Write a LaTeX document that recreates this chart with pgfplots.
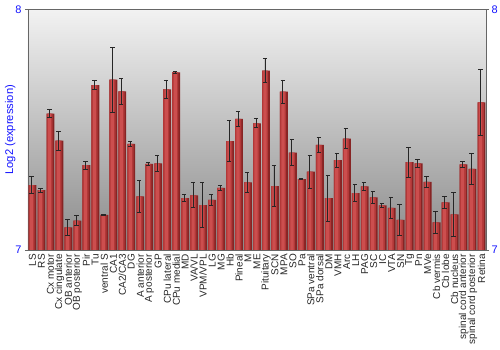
\documentclass[border=0pt]{standalone}
\usepackage{pgfplots}
\pgfplotsset{compat=1.18}
\usepackage{pgfplotstable}
\usepackage{fontspec}
\setmainfont{Liberation Sans}
\definecolor{bgtop}{RGB}{242,242,242}
\definecolor{bgbot}{RGB}{138,138,138}
\definecolor{barA}{RGB}{135,36,36}
\definecolor{barB}{RGB}{178,56,56}
\definecolor{barC}{RGB}{204,78,78}
\definecolor{lblue}{RGB}{20,20,255}
\pgfplotstableread{
x y e
0 7.270 0.035
1 7.249 0.008
2 7.567 0.017
3 7.455 0.040
4 7.094 0.033
5 7.122 0.020
6 7.353 0.017
7 7.686 0.020
8 7.146 0.002
9 7.708 0.134
10 7.660 0.054
11 7.441 0.012
12 7.223 0.067
13 7.358 0.006
14 7.360 0.034
15 7.668 0.039
16 7.739 0.004
17 7.216 0.014
18 7.227 0.052
19 7.187 0.094
20 7.208 0.024
21 7.258 0.012
22 7.453 0.084
23 7.545 0.030
24 7.281 0.042
25 7.527 0.019
26 7.746 0.050
27 7.266 0.085
28 7.658 0.049
29 7.405 0.054
30 7.295 0.002
31 7.326 0.069
32 7.437 0.031
33 7.216 0.096
34 7.374 0.029
35 7.463 0.042
36 7.236 0.036
37 7.265 0.017
38 7.219 0.026
39 7.186 0.008
40 7.175 0.044
41 7.125 0.064
42 7.365 0.062
43 7.360 0.018
44 7.283 0.024
45 7.115 0.046
46 7.198 0.026
47 7.148 0.091
48 7.356 0.011
49 7.337 0.065
50 7.614 0.138
}\datatable
\begin{document}
\begin{tikzpicture}
\useasboundingbox (-28pt,-100pt) rectangle (472pt,250pt);
\begin{axis}[
  at={(0,0)}, anchor=south west,
  scale only axis, width=458pt, height=240.5pt,
  xmin=-0.5, xmax=50.5, ymin=7, ymax=8,
  ybar,
  axis background/.style={shade, top color=bgtop, bottom color=bgbot},
  axis line style={gray!80!black},
  xtick=data,
  xticklabels={LS,RS,Cx motor,Cx cingulate,OB anterior,OB posterior,Pir,Tu,ventral S,CA1,CA2/CA3,DG,A anterior,A posterior,GP,CPu lateral,CPu medial,MD,VA/VL,VPM/VPL,LG,MG,Hb,Pineal,M,ME,Pituitary,SCN,MPA,SO,Pa,SPa ventral,SPa dorsal,DM,VMH,Arc,LH,PAG,SC,IC,VTA,SN,Tg,Pn,MVe,Cb vermis,Cb lobe,Cb nucleus,spinal cord anterior,spinal cord posterior,Retina},
  xticklabel style={rotate=90, anchor=east, font=\fontsize{10}{10}\selectfont, inner sep=1pt, text=black!85},
  x tick style={draw=none},
  ytick={7,8}, ytick pos=left,
  tick align=outside, major tick length=3pt,
  y tick style={gray!80!black},
  yticklabel style={text=lblue, font=\fontsize{11}{11}\selectfont},
  /pgf/number format/assume math mode=true,
  ylabel={Log2 (expression)},
  ylabel style={at={(axis description cs:-0.039,0.5)}, anchor=center, text=lblue, font=\fontsize{11.2}{11.2}\selectfont},
]
\addplot[draw=none, fill=barA, bar width=7.9pt, bar shift=0pt]
  table[x=x, y=y] {\datatable};
\addplot[draw=none, fill=barB, bar width=6.2pt, bar shift=-0.85pt]
  table[x=x, y=y] {\datatable};
\addplot[draw=none, fill=barC, bar width=3.2pt, bar shift=-1.0pt,
  error bars/.cd, y dir=both, y explicit,
  error bar style={black!85, line width=0.9pt},
  error mark options={rotate=90, mark size=2.2pt, black!85, line width=0.9pt}]
  table[x=x, y=y, y error=e] {\datatable};
\end{axis}
\begin{axis}[
  at={(0,0)}, anchor=south west,
  scale only axis, width=458pt, height=240.5pt,
  xmin=-0.5, xmax=50.5, ymin=7, ymax=8,
  axis x line=none, axis y line*=right,
  axis line style={gray!80!black},
  ytick={7,8},
  tick align=outside, major tick length=3pt,
  y tick style={gray!80!black},
  yticklabel style={text=lblue, font=\fontsize{11}{11}\selectfont, xshift=-1pt},
  /pgf/number format/assume math mode=true,
]
\end{axis}
\end{tikzpicture}
\end{document}
